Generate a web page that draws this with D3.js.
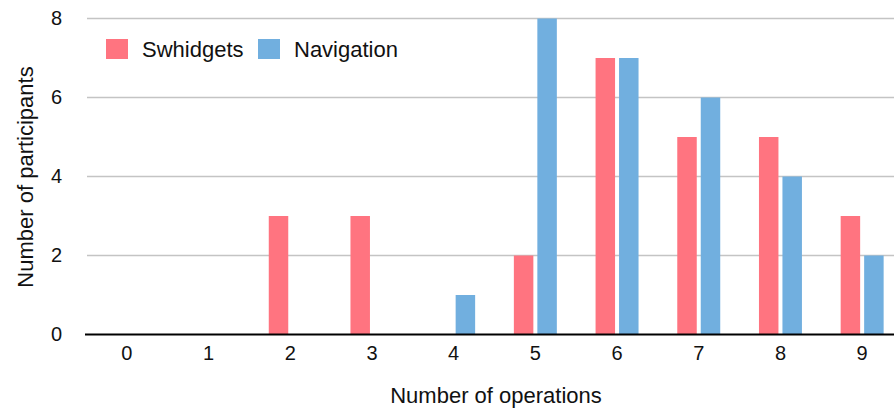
<!DOCTYPE html>
<html>
<head>
<meta charset="utf-8">
<script src="https://cdn.jsdelivr.net/npm/d3@7"></script>
<style>
  html, body { margin: 0; padding: 0; background: #fff; }
  svg { display: block; font-family: "Liberation Sans", Arial, Helvetica, sans-serif; }
</style>
</head>
<body>
<svg id="chart" width="894" height="409"></svg>
<script>
// Number of operations performed per participant, by technique
const operations = ["0", "1", "2", "3", "4", "5", "6", "7", "8", "9"];
const seriesNames = ["Swhidgets", "Navigation"];
const swhidgets = [0, 0, 3, 3, 0, 2, 7, 5, 5, 3];
const navigation = [0, 0, 0, 0, 1, 8, 7, 6, 4, 2];
const yTicks = [0, 2, 4, 6, 8];
const colors = ["#FF7480", "#71AFDF"];

const svg = d3.select("#chart");
const plot = { left: 86, right: 903, top: 18.5, bottom: 334.5 };

const x = d3.scaleBand()
  .domain(operations)
  .range([plot.left, plot.right])
  .paddingInner(0.474)
  .paddingOuter(0.237);

const x1 = d3.scaleBand()
  .domain(seriesNames)
  .range([0, x.bandwidth()])
  .paddingInner(0.17);

const y = d3.scaleLinear()
  .domain([0, 8])
  .range([plot.bottom, plot.top]);

const color = d3.scaleOrdinal().domain(seriesNames).range(colors);

// Horizontal gridlines
svg.append("g")
  .selectAll("line")
  .data(yTicks.filter(d => d > 0))
  .join("line")
  .attr("x1", 87)
  .attr("x2", 894)
  .attr("y1", d => y(d))
  .attr("y2", d => y(d))
  .attr("stroke", "#c4c4c4")
  .attr("stroke-width", 1.6);

// Bars
const rows = operations.map((op, i) => ({
  op,
  values: [
    { key: seriesNames[0], value: swhidgets[i] },
    { key: seriesNames[1], value: navigation[i] }
  ]
}));

svg.append("g")
  .selectAll("g")
  .data(rows)
  .join("g")
  .attr("transform", d => `translate(${x(d.op)},0)`)
  .selectAll("rect")
  .data(d => d.values.filter(v => v.value > 0))
  .join("rect")
  .attr("x", d => x1(d.key))
  .attr("width", x1.bandwidth())
  .attr("y", d => y(d.value))
  .attr("height", d => y(0) - y(d.value))
  .attr("fill", d => color(d.key));

// Baseline
svg.append("line")
  .attr("x1", 85).attr("x2", 894)
  .attr("y1", y(0)).attr("y2", y(0))
  .attr("stroke", "#000")
  .attr("stroke-width", 2);

// Y axis labels
const yAxis = d3.axisLeft(y).tickValues(yTicks).tickSize(0).tickPadding(0);
svg.append("g")
  .attr("transform", "translate(62,0)")
  .call(yAxis)
  .call(g => g.select(".domain").remove())
  .call(g => g.selectAll("text")
    .attr("font-family", "Liberation Sans, Arial, sans-serif")
    .attr("font-size", 20)
    .attr("fill", "#111"));

// X axis labels
const xAxis = d3.axisBottom(x).tickSize(0).tickPadding(0);
svg.append("g")
  .attr("transform", "translate(0,346)")
  .call(xAxis)
  .call(g => g.select(".domain").remove())
  .call(g => g.selectAll("text")
    .attr("dy", "0.71em")
    .attr("font-family", "Liberation Sans, Arial, sans-serif")
    .attr("font-size", 20)
    .attr("fill", "#111"));

// Axis titles
svg.append("text")
  .attr("x", 496)
  .attr("y", 403)
  .attr("text-anchor", "middle")
  .attr("font-size", 22)
  .attr("fill", "#111")
  .text("Number of operations");

svg.append("text")
  .attr("transform", "translate(33,177) rotate(-90)")
  .attr("text-anchor", "middle")
  .attr("font-size", 22)
  .attr("fill", "#111")
  .text("Number of participants");

// Legend
const legendX = [106, 258];
const legend = svg.append("g");
seriesNames.forEach((name, i) => {
  legend.append("rect")
    .attr("x", legendX[i]).attr("y", 39)
    .attr("width", 22).attr("height", 20)
    .attr("fill", color(name));
  legend.append("text")
    .attr("x", legendX[i] + 36).attr("y", 56.5)
    .attr("font-size", 22)
    .attr("fill", "#111")
    .text(name);
});
</script>
</body>
</html>
